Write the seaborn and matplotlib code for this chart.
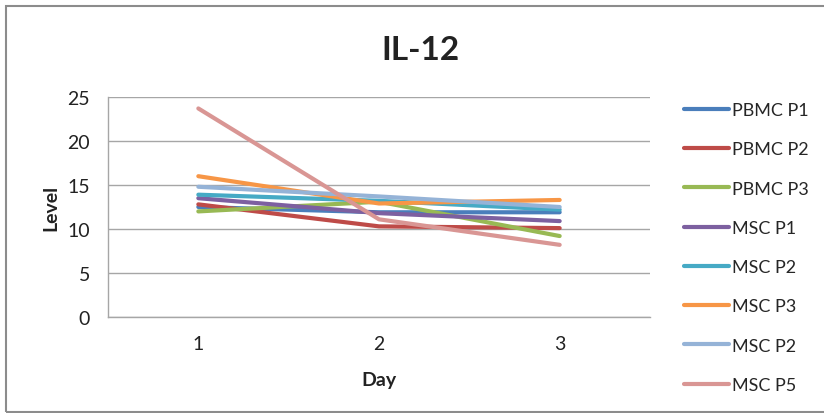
import matplotlib
matplotlib.use("Agg")
import matplotlib.pyplot as plt
import seaborn as sns
import pandas as pd
from matplotlib.patches import Rectangle

days = ["1", "2", "3"]
series_names = ["PBMC P1", "PBMC P2", "PBMC P3", "MSC P1", "MSC P2", "MSC P3", "MSC P2", "MSC P5"]
pbmc_p1 = [12.5, 11.9, 11.9]
pbmc_p2 = [12.8, 10.3, 10.1]
pbmc_p3 = [12.0, 13.1, 9.2]
msc_p1 = [13.5, 11.8, 10.9]
msc_p2 = [13.9, 13.2, 12.2]
msc_p3 = [16.0, 12.9, 13.3]
msc_p2b = [14.8, 13.7, 12.5]
msc_p5 = [23.7, 11.1, 8.2]
series_values = [pbmc_p1, pbmc_p2, pbmc_p3, msc_p1, msc_p2, msc_p3, msc_p2b, msc_p5]
colors = ["#4A7EBB", "#BE4B48", "#98B954", "#7D60A0", "#46AAC5", "#F79646", "#95B3D7", "#D99694"]

sns.set_theme(style="white")
plt.rcParams["font.family"] = ["Lato", "DejaVu Sans"]

fig = plt.figure(figsize=(8.24, 4.14), dpi=100)
ax = fig.add_axes([108/824, 1-318/414, (650-108)/824, (318-98)/414])

for name, vals, c in zip(series_names, series_values, colors):
    df = pd.DataFrame({"Day": days, "Level": vals})
    sns.lineplot(data=df, x="Day", y="Level", color=c, linewidth=3.0, ax=ax, label=name, legend=False)

ax.set_xlim(-0.5, 2.5)
ax.set_ylim(0, 25)
ax.set_yticks([0, 5, 10, 15, 20, 25])
ax.yaxis.grid(True, color="#A6A6A6", linewidth=1.0)
ax.set_axisbelow(True)
for s in ["top", "right"]:
    ax.spines[s].set_visible(False)
for s in ["left", "bottom"]:
    ax.spines[s].set_color("#A6A6A6")
    ax.spines[s].set_linewidth(1.0)
ax.tick_params(axis="both", length=0, labelsize=14, colors="#222222")
ax.tick_params(axis="y", pad=13)
ax.tick_params(axis="x", pad=13)
ax.set_xlabel("Day", fontsize=14, fontweight="bold", labelpad=14, color="#222222")
ax.set_ylabel("Level", fontsize=14, fontweight="bold", labelpad=6, color="#222222")

fig.text(420/824, 1-50/414, "IL-12", ha="center", va="center", fontsize=24, fontweight="bold", color="#222222")

lines = ax.get_lines()
fig.legend(lines, series_names, loc="upper left", bbox_to_anchor=(684/824, 1-103/414),
           frameon=False, fontsize=13, handlelength=2.5, handletextpad=0.15,
           labelspacing=1.29, borderaxespad=0, borderpad=0)

fig.patches.append(Rectangle((6/824, 1-413/414), 1.0, 406/414, transform=fig.transFigure,
                             fill=False, edgecolor="#8C8C8C", linewidth=1.5))

fig.savefig("out.png", dpi=100)
